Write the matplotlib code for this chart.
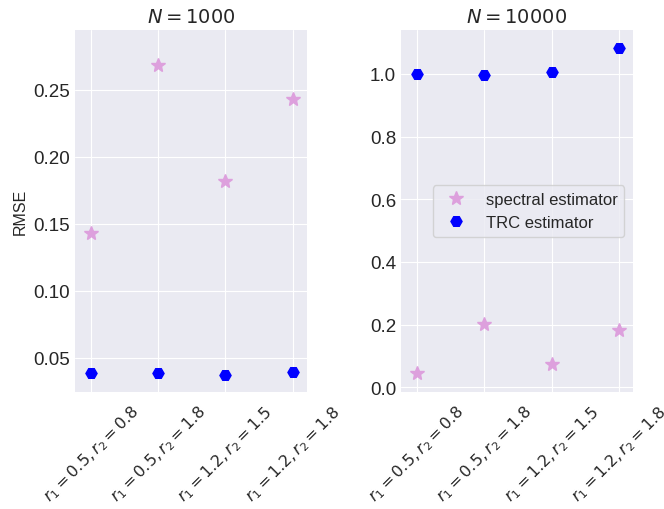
import numpy as np
import matplotlib.pyplot as plt

plt.style.use('seaborn-v0_8-darkgrid')
plt.rcParams['font.family'] = ['Liberation Sans', 'DejaVu Sans']

# settings (r1, r2)
labels = [r'$r_1=0.5, r_2=0.8$', r'$r_1=0.5, r_2=1.8$',
          r'$r_1=1.2, r_2=1.5$', r'$r_1=1.2, r_2=1.8$']

# RMSE, N = 1000
spec_1000 = [0.1434, 0.2687, 0.182, 0.243]
trc_1000 = [0.0388, 0.0383, 0.0372, 0.0389]

# RMSE, N = 10000
spec_10000 = [0.045, 0.201, 0.074, 0.182]
trc_10000 = [1.000, 0.998, 1.007, 1.084]

x = np.arange(len(labels))

fig = plt.figure(figsize=(6.64, 5.1), dpi=100)
ax1 = fig.add_axes([0.113, 0.229, 0.349, 0.710])
ax2 = fig.add_axes([0.604, 0.229, 0.349, 0.710])

#-----------------------N = 1000------------------------------------------------
ax1.plot(x, spec_1000, '*', c='plum', markersize=10, label='spectral estimator')
ax1.plot(x, trc_1000, 'H', c='blue', markersize=8, label='TRC estimator')
ax1.set_xlim(-0.24, 3.21)
ax1.set_ylim(0.0241, 0.2946)
ax1.set_yticks([0.05, 0.10, 0.15, 0.20, 0.25])
ax1.set_ylabel('RMSE', fontsize=11.5)
ax1.set_title(r'$N=1000$', fontsize=14)

#-----------------------N = 10000-----------------------------------------------
ax2.plot(x, spec_10000, '*', c='plum', markersize=10, label='spectral estimator')
ax2.plot(x, trc_10000, 'H', c='blue', markersize=8, label='TRC estimator')
ax2.set_xlim(-0.23, 3.2)
ax2.set_ylim(-0.016, 1.14)
ax2.set_yticks([0.0, 0.2, 0.4, 0.6, 0.8, 1.0])
ax2.set_title(r'$N=10000$', fontsize=14)
ax2.legend(loc='center right', frameon=True, fontsize=12)

xpad = plt.rcParams['xtick.major.pad'] + 3.5
for ax in (ax1, ax2):
    ax.set_xticks(x)
    ax.set_xticklabels(labels, rotation=45, fontsize=11.5)
    ax.tick_params(axis='x', pad=xpad)
    ax.tick_params(axis='y', labelsize=13.5)

plt.savefig('out.png', dpi=100)
